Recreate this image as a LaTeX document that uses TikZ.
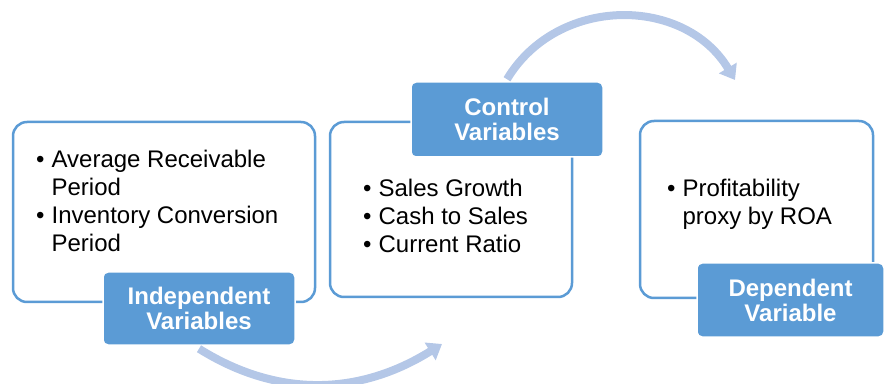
\documentclass[tikz,border=0pt]{standalone}
\usepackage{fontspec}
\setmainfont{Liberation Sans}
\usetikzlibrary{arrows.meta}
\definecolor{boxblue}{HTML}{5B9BD5}
\definecolor{arrowblue}{HTML}{B4C7E7}

\begin{document}
\begin{tikzpicture}[x=1pt,y=1pt,
  varbox/.style={draw=boxblue, line width=2.5pt, fill=white, rounded corners=14pt, inner sep=0},
  varlbl/.style={draw=white, line width=1.5pt, fill=boxblue, rounded corners=5pt, text=white, font=\bfseries\fontsize{24}{25}\selectfont, align=center, inner sep=0},
  varlist/.style={anchor=base west, inner sep=0, font=\fontsize{24}{28}\selectfont},
  flow/.style={arrowblue, line width=8pt, -{Triangle[width=20pt,length=14pt]}}]

\useasboundingbox (0,0) rectangle (886,383);

\node[varbox, minimum width=302pt, minimum height=180pt] (Ind_box) at (164,171) {};
\node[varbox, minimum width=242pt, minimum height=175pt] (Ctl_box) at (451,173.5) {};
\node[varbox, minimum width=233pt, minimum height=177pt] (Dep_box) at (756.5,173.5) {};

\node[varlist] (Ind_txt) at (36,215) {\begin{tabular}[t]{@{}l@{\hspace{7pt}}l@{}}\textbullet & Average Receivable\\ & Period\\ \textbullet & Inventory Conversion\\ & Period\end{tabular}};
\node[varlist] (Ctl_txt) at (363,186) {\begin{tabular}[t]{@{}l@{\hspace{7pt}}l@{}}\textbullet & Sales Growth\\ \textbullet & Cash to Sales\\ \textbullet & Current Ratio\end{tabular}};
\node[varlist] (Dep_txt) at (667,186) {\begin{tabular}[t]{@{}l@{\hspace{7pt}}l@{}}\textbullet & Profitability\\ & proxy by ROA\end{tabular}};

\node[varlbl, minimum width=192pt, minimum height=73pt] (Ind_lbl) at (199,74.5) {Independent\\Variables};
\node[varlbl, minimum width=192pt, minimum height=75pt] (Ctl_lbl) at (507,263.5) {Control\\Variables};
\node[varlbl, minimum width=187pt, minimum height=74pt] (Dep_lbl) at (790.5,83) {Dependent\\Variable};

\coordinate (Ctl_in) at (442,39);
\coordinate (Dep_in) at (735,303);

\draw[flow] ([yshift=-3pt]Ind_lbl.south) to[out=-32,in=-148] (Ctl_in);
\draw[flow] ([yshift=2pt]Ctl_lbl.north) to[out=59,in=121,looseness=1.1] (Dep_in);

\end{tikzpicture}
\end{document}
